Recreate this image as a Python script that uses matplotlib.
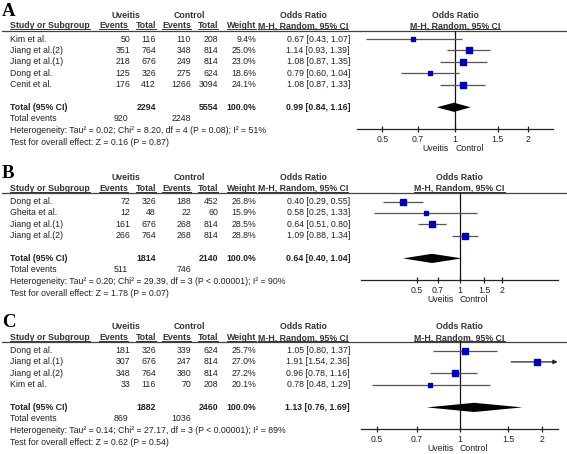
import matplotlib
matplotlib.use('Agg')
import matplotlib.pyplot as plt
import matplotlib.transforms as mtransforms
import numpy as np

# ---------------- data ----------------
studies_A = ['Kim et al.', 'Jiang et al.(2)', 'Jiang et al.(1)', 'Dong et al.', 'Cenit et al.']
uv_events_A = [50, 351, 218, 125, 176]
uv_total_A = [116, 764, 676, 326, 412]
ct_events_A = [110, 348, 249, 275, 1266]
ct_total_A = [208, 814, 814, 624, 3094]
weight_A = [9.4, 25.0, 23.0, 18.6, 24.1]
or_A = [0.67, 1.14, 1.08, 0.79, 1.08]
lo_A = [0.43, 0.93, 0.87, 0.60, 0.87]
hi_A = [1.07, 1.39, 1.35, 1.04, 1.33]
total_A = dict(uv_total=2294, ct_total=5554, est=0.99, lo=0.84, hi=1.16, uv_ev=920, ct_ev=2248,
               het='Heterogeneity: Tau² = 0.02; Chi² = 8.20, df = 4 (P = 0.08); I² = 51%',
               test='Test for overall effect: Z = 0.16 (P = 0.87)')

studies_B = ['Dong et al.', 'Gheita et al.', 'Jiang et al.(1)', 'Jiang et al.(2)']
uv_events_B = [72, 12, 161, 266]
uv_total_B = [326, 48, 676, 764]
ct_events_B = [188, 22, 268, 268]
ct_total_B = [452, 60, 814, 814]
weight_B = [26.8, 15.9, 28.5, 28.8]
or_B = [0.40, 0.58, 0.64, 1.09]
lo_B = [0.29, 0.25, 0.51, 0.88]
hi_B = [0.55, 1.33, 0.80, 1.34]
total_B = dict(uv_total=1814, ct_total=2140, est=0.64, lo=0.40, hi=1.04, uv_ev=511, ct_ev=746,
               het='Heterogeneity: Tau² = 0.20; Chi² = 29.39, df = 3 (P < 0.00001); I² = 90%',
               test='Test for overall effect: Z = 1.78 (P = 0.07)')

studies_C = ['Dong et al.', 'Jiang et al.(1)', 'Jiang et al.(2)', 'Kim et al.']
uv_events_C = [181, 307, 348, 33]
uv_total_C = [326, 676, 764, 116]
ct_events_C = [339, 247, 380, 70]
ct_total_C = [624, 814, 814, 208]
weight_C = [25.7, 27.0, 27.2, 20.1]
or_C = [1.05, 1.91, 0.96, 0.78]
lo_C = [0.80, 1.54, 0.78, 0.48]
hi_C = [1.37, 2.36, 1.16, 1.29]
total_C = dict(uv_total=1882, ct_total=2460, est=1.13, lo=0.76, hi=1.69, uv_ev=869, ct_ev=1036,
               het='Heterogeneity: Tau² = 0.14; Chi² = 27.17, df = 3 (P < 0.00001); I² = 89%',
               test='Test for overall effect: Z = 0.62 (P = 0.54)')

tick_vals = [0.5, 0.7, 1, 1.5, 2]
tick_labels = ['0.5', '0.7', '1', '1.5', '2']
panel_letters = ['A', 'B', 'C']

# ---------------- layout ----------------
W, H = 567, 454
plt.rcParams['font.family'] = ['Liberation Sans', 'DejaVu Sans']
fig = plt.figure(figsize=(W / 100, H / 100), dpi=100)
bg = fig.add_axes([0, 0, 1, 1])
bg.set_xlim(0, W)
bg.set_ylim(H, 0)
bg.axis('off')

FS = 6.3
TXT = '#222222'
HDR = '#333333'
SQ = '#0000b4'
CI = '#555555'

panels = [
    dict(studies=studies_A, uve=uv_events_A, uvt=uv_total_A, cte=ct_events_A, ctt=ct_total_A,
         w=weight_A, est=or_A, lo=lo_A, hi=hi_A, tot=total_A, off=0.0,
         fx=(357, 553), xlim=(0.393, 2.54)),
    dict(studies=studies_B, uve=uv_events_B, uvt=uv_total_B, cte=ct_events_B, ctt=ct_total_B,
         w=weight_B, est=or_B, lo=lo_B, hi=hi_B, tot=total_B, off=162.5,
         fx=(361, 558), xlim=(0.202, 4.95)),
    dict(studies=studies_C, uve=uv_events_C, uvt=uv_total_C, cte=ct_events_C, ctt=ct_total_C,
         w=weight_C, est=or_C, lo=lo_C, hi=hi_C, tot=total_C, off=311.5,
         fx=(361, 558), xlim=(0.438, 2.28)),
]

X_NAME = 10
X_UVE = 130
X_UVT = 156
X_CTE = 191
X_CTT = 218
X_W = 256
X_OR = 350
X_ORC = 303
X_UVH = 126
X_CTH = 189
ROW = 11.4

underline_texts = []


def t(x, y, s, ha='right', bold=False, color=TXT, ul=False):
    tt = bg.text(x, y, s, ha=ha, va='center', fontsize=FS, color=color,
                 fontweight='bold' if bold else 'normal')
    if ul:
        underline_texts.append(tt)
    return tt


for letter, p in zip(panel_letters, panels):
    off = p['off']
    n = len(p['studies'])
    bg.text(2, 2.5 + off, letter, ha='left', va='top', fontsize=13.5, fontweight='bold',
            family='Liberation Serif', color='black')
    h1 = 15 + off
    h2 = 26 + off
    sep = 30.7 + off
    t(X_UVH, h1, 'Uveitis', ha='center', bold=True, color=HDR)
    t(X_CTH, h1, 'Control', ha='center', bold=True, color=HDR)
    t(X_ORC, h1, 'Odds Ratio', ha='center', bold=True, color=HDR)
    t(X_NAME, h2, 'Study or Subgroup', ha='left', bold=True, color=HDR, ul=True)
    t(X_UVE - 2, h2, 'Events', bold=True, color=HDR, ul=True)
    t(X_UVT, h2, 'Total', bold=True, color=HDR, ul=True)
    t(X_CTE, h2, 'Events', bold=True, color=HDR, ul=True)
    t(X_CTT, h2, 'Total', bold=True, color=HDR, ul=True)
    t(X_W, h2, 'Weight', bold=True, color=HDR, ul=True)
    t(X_ORC, h2, 'M-H, Random, 95% CI', ha='center', bold=True, color=HDR, ul=True)
    bg.plot([2, W], [sep, sep], color='#444444', lw=0.9)

    rows_y = [39 + off + ROW * i for i in range(n)]
    for i, y in enumerate(rows_y):
        t(X_NAME, y, p['studies'][i], ha='left')
        t(X_UVE, y, str(p['uve'][i]))
        t(X_UVT, y, str(p['uvt'][i]))
        t(X_CTE, y, str(p['cte'][i]))
        t(X_CTT, y, str(p['ctt'][i]))
        t(X_W, y, f"{p['w'][i]:.1f}%")
        t(X_OR, y, f"{p['est'][i]:.2f} [{p['lo'][i]:.2f}, {p['hi'][i]:.2f}]")

    tot = p['tot']
    ty = 39 + off + ROW * n + 11.3
    t(X_NAME, ty, 'Total (95% CI)', ha='left', bold=True)
    t(X_UVT, ty, str(tot['uv_total']), bold=True)
    t(X_CTT, ty, str(tot['ct_total']), bold=True)
    t(X_W, ty, '100.0%', bold=True)
    t(X_OR, ty, f"{tot['est']:.2f} [{tot['lo']:.2f}, {tot['hi']:.2f}]", bold=True)
    t(X_NAME, ty + 11.4, 'Total events', ha='left')
    t(X_UVE - 2, ty + 11.4, str(tot['uv_ev']))
    t(X_CTE, ty + 11.4, str(tot['ct_ev']))
    t(X_NAME, ty + 23.2, tot['het'], ha='left')
    t(X_NAME, ty + 34.8, tot['test'], ha='left')

    axis_y = ty + 21.8
    fx0, fx1 = p['fx']
    ax = fig.add_axes([fx0 / W, 1 - axis_y / H, (fx1 - fx0) / W, (axis_y - sep) / H])
    ax.set_xscale('log')
    ax.set_xlim(*p['xlim'])
    ax.set_ylim(axis_y, sep)
    ax.patch.set_visible(False)
    for s in ['top', 'left', 'right']:
        ax.spines[s].set_visible(False)
    ax.spines['bottom'].set_linewidth(0.9)
    ax.spines['bottom'].set_color('#222222')
    ax.set_yticks([])
    ax.xaxis.set_minor_locator(matplotlib.ticker.NullLocator())
    ax.set_xticks(tick_vals)
    ax.set_xticklabels(tick_labels)
    ax.tick_params(axis='x', direction='inout', length=5, width=0.9, color='#222222',
                   labelsize=FS, labelcolor=TXT, pad=1.5)
    ax.axvline(1, color='#111111', lw=0.9)

    xmax = p['xlim'][1]
    for i, y in enumerate(rows_y):
        lo, hi, est = p['lo'][i], p['hi'][i], p['est'][i]
        if hi > xmax:
            ax.annotate('', xy=(xmax * 0.997, y), xytext=(lo, y),
                        arrowprops=dict(arrowstyle='-|>', color='#222222', lw=0.9,
                                        mutation_scale=6, shrinkA=0, shrinkB=0))
        else:
            ax.plot([lo, hi], [y, y], color=CI, lw=0.9, solid_capstyle='butt')
        ax.plot([est], [y], marker='s', ms=0.76 * np.sqrt(p['w'][i]), color=SQ,
                mec=SQ, linestyle='none', zorder=5)
    ax.fill([tot['lo'], tot['est'], tot['hi'], tot['est']], [ty, ty - 4.6, ty, ty + 4.6],
            color='black', lw=0, zorder=5)

    # forest headers
    bt = mtransforms.blended_transform_factory(ax.transAxes, bg.transData)
    ax.text(0.5, h1, 'Odds Ratio', transform=bt, ha='center', va='center', fontsize=FS,
            fontweight='bold', color=HDR)
    ftt = ax.text(0.5, h2, 'M-H, Random, 95% CI', transform=bt, ha='center', va='center',
                  fontsize=FS, fontweight='bold', color=HDR)
    underline_texts.append(ftt)
    bd = mtransforms.blended_transform_factory(ax.transData, bg.transData)
    ly = axis_y + 19
    ax.text(1, ly, 'Uveitis', transform=mtransforms.offset_copy(bd, fig=fig, x=-6, units='dots'),
            ha='right', va='center', fontsize=FS, color=TXT, clip_on=False)
    ax.text(1, ly, 'Control', transform=mtransforms.offset_copy(bd, fig=fig, x=0, units='dots'),
            ha='left', va='center', fontsize=FS, color=TXT, clip_on=False)

# underlines for header texts
fig.canvas.draw()
r = fig.canvas.get_renderer()
inv = bg.transData.inverted()
for tt in underline_texts:
    bb = tt.get_window_extent(renderer=r)
    (x0, y0), (x1, y1) = inv.transform([[bb.x0, bb.y0], [bb.x1, bb.y1]])
    yy = max(y0, y1) - 1.2
    bg.plot([x0, x1], [yy, yy], color=HDR, lw=0.7)

fig.savefig('out.png', dpi=100)
